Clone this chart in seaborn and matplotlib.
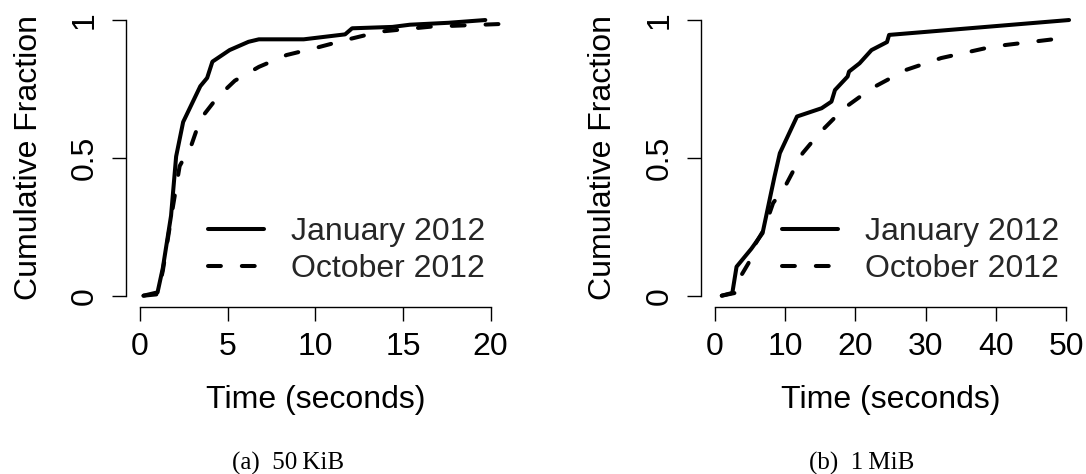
import numpy as np
import pandas as pd
import matplotlib
matplotlib.use("Agg")
import matplotlib.pyplot as plt
import seaborn as sns

# ---------------- data ----------------
series_names = ["January 2012", "October 2012"]

# (a) 50 KiB
a_jan_x = [0.2, 1.0, 1.3, 1.77, 2.06, 2.46, 3.44, 3.83, 4.13, 5.11, 6.19, 6.78, 9.34, 11.7, 12.1, 14.4, 15.4, 17.6, 19.7]
a_jan_y = [0.0, 0.012, 0.1, 0.29, 0.505, 0.63, 0.76, 0.79, 0.849, 0.891, 0.921, 0.93, 0.93, 0.948, 0.97, 0.975, 0.983, 0.99, 1.0]
a_oct_x = [0.2, 1.0, 1.3, 1.87, 2.26, 2.95, 3.44, 4.42, 5.41, 6.78, 8.36, 10.1, 11.7, 13.7, 16.6, 20.75]
a_oct_y = [0.0, 0.005, 0.09, 0.32, 0.47, 0.55, 0.64, 0.72, 0.78, 0.83, 0.873, 0.9, 0.927, 0.958, 0.976, 0.986]

# (b) 1 MiB
b_jan_x = [1.0, 2.5, 3.1, 5.2, 6.8, 7.3, 8.0, 8.5, 9.26, 11.7, 15.2, 16.6, 17.1, 18.9, 19.1, 20.6, 22.3, 24.5, 24.8, 50.4]
b_jan_y = [0.0, 0.01, 0.105, 0.17, 0.227, 0.287, 0.372, 0.432, 0.517, 0.65, 0.68, 0.704, 0.746, 0.795, 0.813, 0.843, 0.891, 0.92, 0.946, 1.0]
b_oct_x = [1.0, 2.9, 3.8, 4.8, 5.6, 7.0, 8.3, 10.0, 12.5, 14.9, 18.4, 22.3, 27.2, 32.2, 39.6, 50.4]
b_oct_y = [0.0, 0.01, 0.075, 0.118, 0.18, 0.24, 0.336, 0.396, 0.517, 0.59, 0.68, 0.752, 0.819, 0.862, 0.904, 0.937]

a_xticks = [0, 5, 10, 15, 20]
b_xticks = [0, 10, 20, 30, 40, 50]
yticks = [0, 0.5, 1]
ytick_labels = ["0", "0.5", "1"]
xlabel = "Time (seconds)"
ylabel = "Cumulative Fraction"
captions = ["(a)  50\u2009KiB", "(b)  1\u2009MiB"]

# ---------------- build tables ----------------
def make_df(jx, jy, ox, oy):
    return pd.concat([
        pd.DataFrame({"x": jx, "y": jy, "series": series_names[0]}),
        pd.DataFrame({"x": ox, "y": oy, "series": series_names[1]}),
    ], ignore_index=True)

df_a = make_df(a_jan_x, a_jan_y, a_oct_x, a_oct_y)
df_b = make_df(b_jan_x, b_jan_y, b_oct_x, b_oct_y)

# ---------------- style ----------------
sns.set_theme(style="ticks")
plt.rcParams["font.family"] = ["Liberation Sans", "DejaVu Sans"]
FS = 23
LW = 2.9

W, H = 1086, 474
fig = plt.figure(figsize=(W / 100, H / 100), dpi=100)

def px_axes(left, right, top, bottom):
    return fig.add_axes([left / W, 1 - bottom / H, (right - left) / W, (bottom - top) / H])

ax_a = px_axes(126.0, 504.6, 9, 306.7)
ax_b = px_axes(700.7, 1080.3, 9, 306.7)

panels = [
    (ax_a, df_a, a_xticks, (-0.8, 20.8), (208, 217)),
    (ax_b, df_b, b_xticks, (-2.0, 52.0), (782, 217)),
]

dash_map = {series_names[0]: "", series_names[1]: (3.2, 5.2)}

for ax, df, xt, xl, leg_pos in panels:
    sns.lineplot(data=df, x="x", y="y", style="series", dashes=dash_map,
                 color="black", linewidth=LW, sort=False, estimator=None,
                 ax=ax, legend=True, solid_capstyle="round", dash_capstyle="round",
                 solid_joinstyle="round", dash_joinstyle="round")
    ax.set_xlim(*xl)
    ax.set_ylim(-0.04, 1.04)
    ax.set_xticks(xt)
    ax.set_xticklabels([str(v) for v in xt])
    ax.set_yticks(yticks)
    ax.set_yticklabels(ytick_labels)
    for s in ["top", "right"]:
        ax.spines[s].set_visible(False)
    ax.spines["left"].set_bounds(0, 1)
    ax.spines["bottom"].set_bounds(xt[0], xt[-1])
    for s in ["left", "bottom"]:
        ax.spines[s].set_linewidth(1.0)
        ax.spines[s].set_color("black")
    ax.tick_params(axis="both", length=10, width=1.0, color="black",
                   labelsize=FS, labelcolor="black")
    ax.tick_params(axis="x", pad=8.5)
    ax.tick_params(axis="y", pad=9, labelrotation=90)
    for lab in ax.get_yticklabels():
        lab.set_va("center")
    ax.set_xlabel(xlabel, fontsize=FS, color="black")
    ax.set_ylabel(ylabel, fontsize=FS, color="black")
    ax.yaxis.set_label_coords(-0.217, 0.5)
    ax.xaxis.set_label_coords(0.5, -0.264)
    ax.set_facecolor("white")
    handles, labels = ax.get_legend_handles_labels()
    lx, ly = leg_pos
    ax.legend(handles, labels, loc="upper left",
              bbox_to_anchor=(lx / W, 1 - ly / H), bbox_transform=fig.transFigure,
              frameon=False, fontsize=FS, handlelength=1.75, handletextpad=0.85,
              labelspacing=0.21, borderpad=0, borderaxespad=0)
    for line in ax.get_legend().get_lines():
        line.set_linewidth(LW)

fig.text(288 / W, 1 - 463 / H, captions[0], ha="center", va="center",
         fontsize=18, family=["Liberation Serif", "DejaVu Serif"], color="black")
fig.text(862 / W, 1 - 463 / H, captions[1], ha="center", va="center",
         fontsize=18, family=["Liberation Serif", "DejaVu Serif"], color="black")

fig.savefig("out.png", dpi=100, facecolor="white")
